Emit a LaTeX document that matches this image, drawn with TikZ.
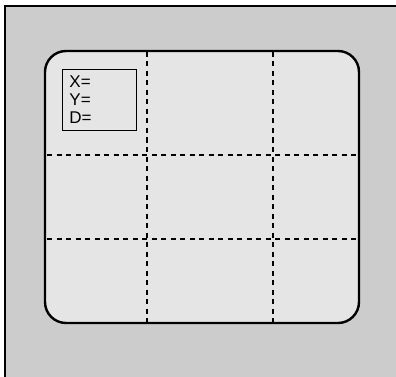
\documentclass[tikz,border=0pt]{standalone}
\usepackage{fontspec}
\setmainfont{Liberation Sans}
\usepackage{tikz}
\usetikzlibrary{positioning}

\definecolor{casegray}{gray}{0.8}
\definecolor{screengray}{gray}{0.898}

\tikzset{
    gridline/.style={line width=2.3pt, dash pattern=on 5pt off 4.5pt},
    readoutbox/.style={draw, line width=0.9pt, anchor=north west, align=left,
        inner xsep=7pt, inner ysep=6.5pt, text width=60pt,
        font=\fontsize{17}{18}\selectfont}
}

\begin{document}
\begin{tikzpicture}[x=1pt, y=-1pt]

    % Marco y recorte
    \useasboundingbox (0,0) rectangle (396,377);
    \clip (0,0) rectangle (396,377);

    % Carcasa
    \draw[fill=casegray, line width=2pt] (5,6) rectangle (420,400);

    % Pantalla
    \draw[fill=screengray, line width=2.4pt, rounded corners=21pt]
        (45,51) rectangle (359,323);

    % Rejilla
    \draw[gridline] (147,52) -- (147,322);
    \draw[gridline] (273,52) -- (273,322);
    \draw[gridline] (47,155) -- (357,155);
    \draw[gridline] (47,239) -- (357,239);

    % Lecturas
    \node[readoutbox, fill=screengray] (readout) at (62,69) {X=\\Y=\\D=};
\end{tikzpicture}
\end{document}
